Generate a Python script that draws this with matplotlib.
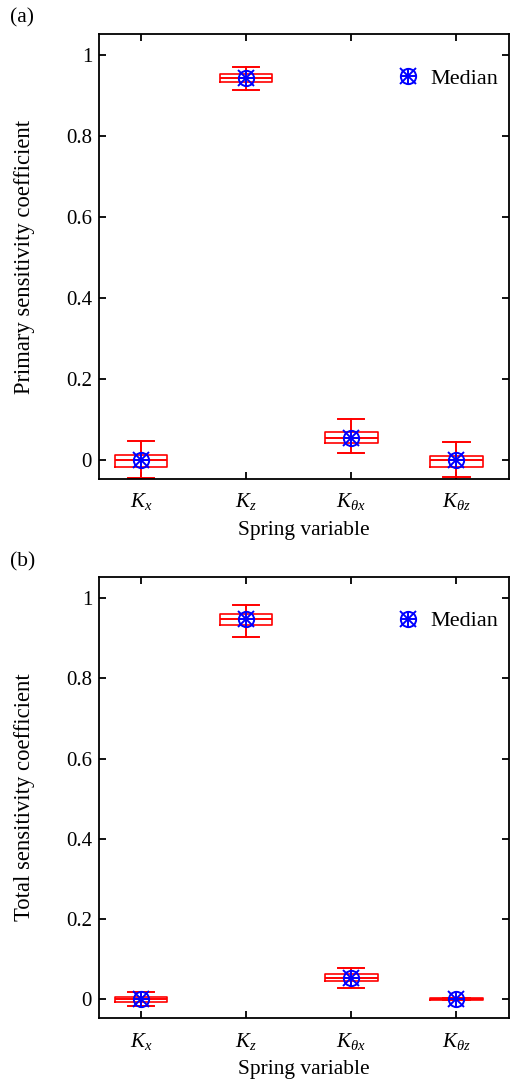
import numpy as np
import matplotlib.pyplot as plt
from matplotlib.ticker import FuncFormatter

plt.rcParams['font.family'] = 'Liberation Serif'
plt.rcParams['mathtext.fontset'] = 'custom'
plt.rcParams['mathtext.rm'] = 'Liberation Serif'
plt.rcParams['mathtext.it'] = 'Liberation Serif:italic'

labels = ['$K_x$', '$K_z$', '$K_{\\theta x}$', '$K_{\\theta z}$']

# primary sensitivity (a)
p_lo = [-0.044, 0.914, 0.017, -0.043]
p_q1 = [-0.018, 0.935, 0.041, -0.018]
p_med = [0.0, 0.945, 0.054, 0.0]
p_mean = [0.0, 0.945, 0.054, 0.0]
p_q3 = [0.012, 0.955, 0.068, 0.011]
p_hi = [0.048, 0.971, 0.101, 0.044]

# total sensitivity (b)
t_lo = [-0.017, 0.903, 0.029, -0.003]
t_q1 = [-0.007, 0.933, 0.045, -0.002]
t_med = [0.0, 0.948, 0.053, 0.0]
t_mean = [0.0, 0.948, 0.053, 0.0]
t_q3 = [0.005, 0.960, 0.063, 0.002]
t_hi = [0.017, 0.983, 0.078, 0.003]

panels = [
    ('(a)', 'Primary sensitivity coefficient', p_lo, p_q1, p_med, p_mean, p_q3, p_hi),
    ('(b)', 'Total sensitivity coefficient', t_lo, t_q1, t_med, t_mean, t_q3, t_hi),
]

fig = plt.figure(figsize=(5.12, 10.8), dpi=100)
rects = [[0.1934, 0.5565, 0.8006, 0.412], [0.1934, 0.0574, 0.8006, 0.4083]]
tag_y = [1 - 18 / 1080, 1 - 562 / 1080]

for k, ((tag, ylab, lo, q1, med, mean, q3, hi), r) in enumerate(zip(panels, rects)):
    ax = fig.add_axes(r)
    stats = []
    for i in range(4):
        stats.append(dict(whislo=lo[i], q1=q1[i], med=med[i], mean=mean[i],
                          q3=q3[i], whishi=hi[i], fliers=[]))
    pos = np.arange(1, 5)
    red = dict(color='red', lw=1.2)
    ax.bxp(stats, positions=pos, widths=0.5, showmeans=True, meanline=True,
           boxprops=red, whiskerprops=dict(color='red', lw=1.4),
           capprops=dict(color='red', lw=1.4), medianprops=red,
           meanprops=dict(color='red', lw=1.2, ls='-'), capwidths=0.25,
           manage_ticks=False)
    for m in ['o', 'x', '+']:
        ax.plot(pos, med, ls='none', marker=m, ms=11,
                mfc='none', mec='blue', mew=1.4, zorder=5)
    h = tuple(ax.plot([], [], ls='none', marker=m, ms=11,
                      mfc='none', mec='blue', mew=1.4)[0] for m in ['o', 'x', '+'])
    ax.legend([h], ['Median'], loc='center right', bbox_to_anchor=(1.0, 0.9),
              frameon=False, fontsize=16, handletextpad=0.4,
              borderaxespad=0.1, handlelength=1.2)
    ax.set_xlim(0.6, 4.5)
    ax.set_ylim(-0.047, 1.053)
    ax.set_xticks(pos)
    ax.set_xticklabels(labels, fontsize=17)
    ax.set_yticks([0, 0.2, 0.4, 0.6, 0.8, 1.0])
    ax.yaxis.set_major_formatter(FuncFormatter(lambda v, p: '%g' % round(v, 2)))
    ax.tick_params(direction='in', top=True, right=True, length=5, width=1.3,
                   labelsize=15)
    ax.tick_params(axis='y', pad=5)
    ax.tick_params(axis='x', pad=9)
    for s in ax.spines.values():
        s.set_linewidth(1.3)
    ax.set_xlabel('Spring variable', fontsize=15.5)
    ax.set_ylabel(ylab, fontsize=16.3)
    ax.xaxis.set_label_coords(0.5, -0.116)
    ax.xaxis.label.set_va('center')
    ax.yaxis.set_label_coords(-0.181, 0.5)
    ax.yaxis.label.set_va('center')
    fig.text(10 / 512, tag_y[k], tag, fontsize=15.5, ha='left', va='center')

fig.savefig('out.png', dpi=100)
